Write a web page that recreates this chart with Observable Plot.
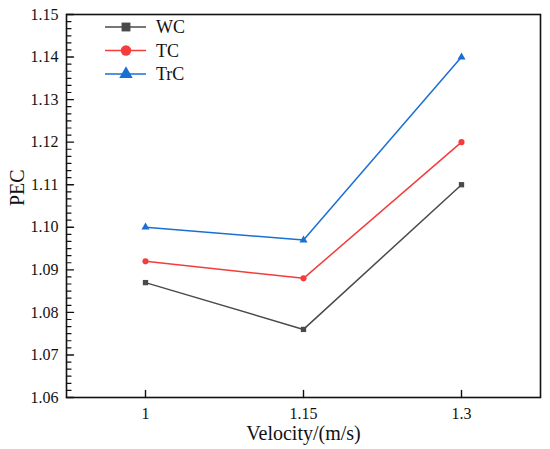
<!DOCTYPE html>
<html>
<head>
<meta charset="utf-8">
<script src="https://cdn.jsdelivr.net/npm/d3@7"></script>
<script src="https://cdn.jsdelivr.net/npm/@observablehq/plot@0.6"></script>
<style>
  html, body { margin: 0; padding: 0; background: #fff; }
  #wrap { position: relative; width: 550px; height: 449px; font-family: "Liberation Serif", "Times New Roman", serif; }
  #wrap svg, #wrap svg text { font-family: "Liberation Serif", "Times New Roman", serif !important; }
  #legend { position: absolute; left: 0; top: 0; }
</style>
</head>
<body>
<div id="wrap"></div>
<script>
// ---- data ----
const velocities = [1, 1.15, 1.3];
const seriesNames = ["WC", "TC", "TrC"];
const wcValues = [1.087, 1.076, 1.110];
const tcValues = [1.092, 1.088, 1.120];
const trcValues = [1.100, 1.097, 1.140];
const xTickLabels = ["1", "1.15", "1.3"];
const yTickValues = [1.06, 1.07, 1.08, 1.09, 1.10, 1.11, 1.12, 1.13, 1.14, 1.15];

// ---- styles ----
const colors = {WC: "#4a4a4a", TC: "#f53c3c", TrC: "#1a6fd4"};
const symbols = {WC: "square", TC: "circle", TrC: "triangle"};
const radii = {WC: 5, TC: 5.2, TrC: 5};

const valuesBySeries = {WC: wcValues, TC: tcValues, TrC: trcValues};
const table = seriesNames.flatMap(s => velocities.map((v, i) => ({series: s, x: v, y: valuesBySeries[s][i]})));

const xDomain = [0.925, 1.375];
const yDomain = [1.06, 1.15];
// minor ticks: 5 between each pair of majors
const yMinor = [];
for (let i = 0; i < yTickValues.length - 1; i++) {
  for (let k = 1; k <= 5; k++) yMinor.push(yTickValues[i] + (yTickValues[i + 1] - yTickValues[i]) * k / 6);
}

const font = "Liberation Serif";
const tickShape = {draw(context, l) { context.moveTo(0, 0); context.lineTo(0, -l); }};

const chart = Plot.plot({
  width: 550,
  height: 449,
  marginLeft: 66,
  marginRight: 10,
  marginTop: 14,
  marginBottom: 52,
  style: {fontFamily: font, fontSize: "16px", color: "#111", background: "#fff"},
  x: {domain: xDomain},
  y: {domain: yDomain},
  symbol: {type: "identity"},
  marks: [
    Plot.axisX({ticks: velocities, tickFormat: (d, i) => xTickLabels[i], tickSize: 0, tickPadding: 10, fontSize: 16, fontFamily: font, label: null}),
    Plot.axisY({ticks: yTickValues, tickFormat: d3.format(".2f"), tickSize: 0, tickPadding: 8, fontSize: 16, fontFamily: font, label: null}),
    // inward major ticks on left axis
    Plot.vector(yTickValues, {x: () => xDomain[0], y: d => d, length: 7, rotate: 90, anchor: "start", shape: tickShape, stroke: "#111", strokeWidth: 1.4}),
    // inward minor ticks
    Plot.vector(yMinor, {x: () => xDomain[0], y: d => d, length: 4.5, rotate: 90, anchor: "start", shape: tickShape, stroke: "#111", strokeWidth: 1.2}),
    // inward ticks on bottom axis
    Plot.vector(velocities, {x: d => d, y: () => yDomain[0], length: 7, rotate: 0, anchor: "start", shape: tickShape, stroke: "#111", strokeWidth: 1.4}),
    Plot.frame({stroke: "#111", strokeWidth: 1.6}),
    Plot.line(table, {x: "x", y: "y", z: "series", stroke: d => colors[d.series], strokeWidth: 1.5}),
    Plot.dot(table, {x: "x", y: "y", symbol: d => symbols[d.series], fill: d => colors[d.series], r: d => radii[d.series], stroke: "none"}),
    Plot.text(["Velocity/(m/s)"], {frameAnchor: "bottom", dy: 36, text: d => d, fontSize: 20, fontFamily: font, lineAnchor: "middle"}),
    Plot.text(["PEC"], {frameAnchor: "left", dx: -49, text: d => d, fontSize: 20, fontFamily: font, rotate: -90, lineAnchor: "middle"})
  ]
});

const wrap = document.getElementById("wrap");
wrap.appendChild(chart);

// ---- legend overlay ----
const ns = "http://www.w3.org/2000/svg";
const leg = document.createElementNS(ns, "svg");
leg.setAttribute("id", "legend");
leg.setAttribute("width", 220);
leg.setAttribute("height", 100);
const symbolPaths = {WC: d3.symbolSquare, TC: d3.symbolCircle, TrC: d3.symbolTriangle};
seriesNames.forEach((s, i) => {
  const cy = 27 + i * 23.5;
  const line = document.createElementNS(ns, "line");
  line.setAttribute("x1", 105); line.setAttribute("x2", 146);
  line.setAttribute("y1", cy); line.setAttribute("y2", cy);
  line.setAttribute("stroke", colors[s]); line.setAttribute("stroke-width", 1.5);
  leg.appendChild(line);
  const p = document.createElementNS(ns, "path");
  p.setAttribute("d", d3.symbol(symbolPaths[s], Math.PI * radii[s] * radii[s])());
  p.setAttribute("transform", `translate(126,${cy})`);
  p.setAttribute("fill", colors[s]);
  leg.appendChild(p);
  const t = document.createElementNS(ns, "text");
  t.setAttribute("x", 156); t.setAttribute("y", cy);
  t.setAttribute("dy", "0.35em");
  t.setAttribute("font-family", font);
  t.setAttribute("font-size", 18);
  t.setAttribute("fill", "#111");
  t.textContent = s;
  leg.appendChild(t);
});
wrap.appendChild(leg);
</script>
</body>
</html>
